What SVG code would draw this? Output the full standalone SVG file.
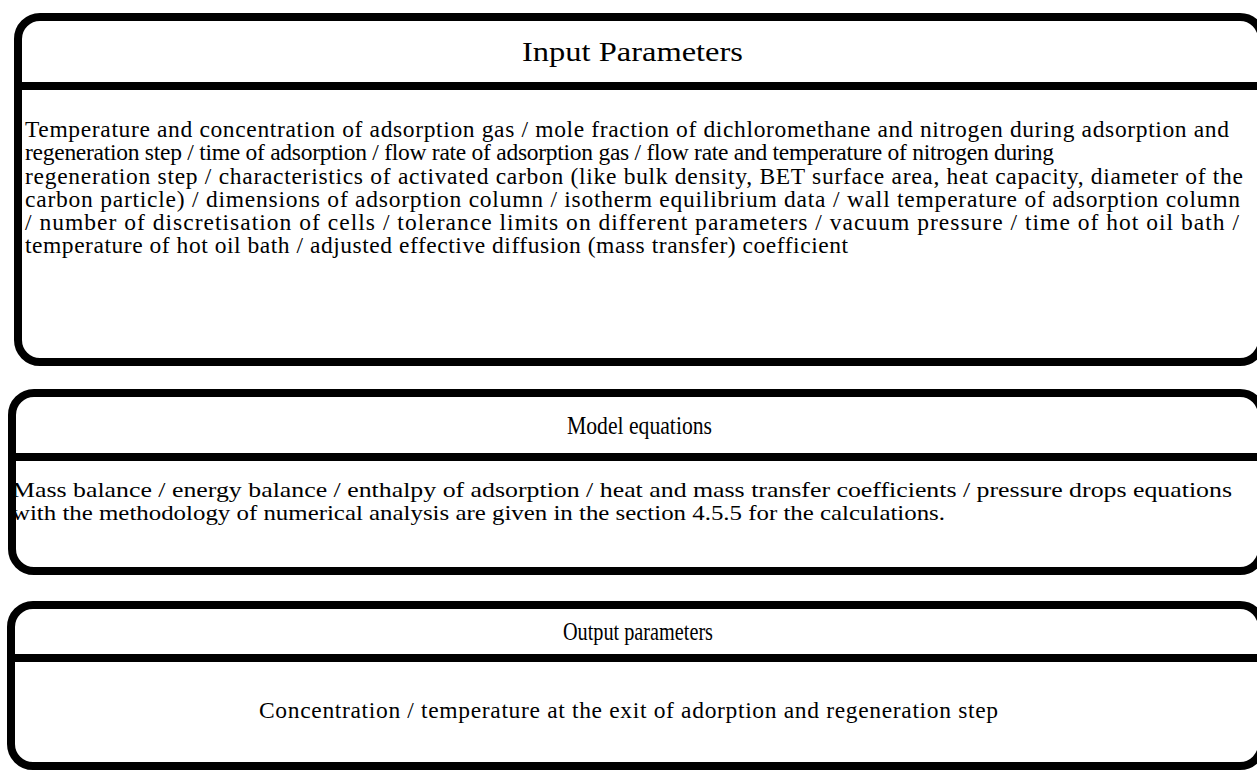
<svg xmlns="http://www.w3.org/2000/svg" width="1257" height="771" viewBox="0 0 1257 771">
<style>
.box{fill:#fff;stroke:#000;stroke-width:8}
.div{stroke:#000;stroke-width:8}
.title{font-family:"Liberation Serif","Times New Roman",serif;fill:#000}
.body{font-family:"Liberation Serif","Times New Roman",serif;fill:#000}
</style>
<rect width="1257" height="771" fill="#fff"/>
<g id="input">
<rect class="box" x="18" y="17" width="1244" height="345" rx="22" ry="22"/>
<line class="div" x1="18" y1="86" x2="1262" y2="86"/>
<text class="title" x="522" y="61" style="font-size:27px" textLength="221" lengthAdjust="spacingAndGlyphs">Input Parameters</text>
<g style="font-size:23.5px">
<text class="body" x="25" y="137" textLength="1204" lengthAdjust="spacing">Temperature and concentration of adsorption gas / mole fraction of dichloromethane and nitrogen during adsorption and</text>
<text class="body" x="25" y="160" textLength="1029" lengthAdjust="spacing">regeneration step / time of adsorption / flow rate of adsorption gas / flow rate and temperature of nitrogen during</text>
<text class="body" x="25" y="184" textLength="1218" lengthAdjust="spacing">regeneration step / characteristics of activated carbon (like bulk density, BET surface area, heat capacity, diameter of the</text>
<text class="body" x="25" y="207" textLength="1215" lengthAdjust="spacing">carbon particle) / dimensions of adsorption column / isotherm equilibrium data / wall temperature of adsorption column</text>
<text class="body" x="25" y="230" textLength="1214" lengthAdjust="spacing">/ number of discretisation of cells / tolerance limits on different parameters / vacuum pressure / time of hot oil bath /</text>
<text class="body" x="25" y="253" textLength="823" lengthAdjust="spacing">temperature of hot oil bath / adjusted effective diffusion (mass transfer) coefficient</text>
</g>
</g>
<g id="model">
<rect class="box" x="12" y="393" width="1250" height="178" rx="22" ry="22"/>
<line class="div" x1="12" y1="457" x2="1262" y2="457"/>
<text class="title" x="567" y="434" style="font-size:25px" textLength="145" lengthAdjust="spacingAndGlyphs">Model equations</text>
<g style="font-size:22px">
<text class="body" x="12" y="497" textLength="1220" lengthAdjust="spacingAndGlyphs">Mass balance / energy balance / enthalpy of adsorption / heat and mass transfer coefficients / pressure drops  equations</text>
<text class="body" x="12" y="520" textLength="933" lengthAdjust="spacingAndGlyphs">with the methodology of numerical analysis are given in the section 4.5.5 for the calculations.</text>
</g>
</g>
<g id="output">
<rect class="box" x="11" y="605" width="1251" height="161" rx="22" ry="22"/>
<line class="div" x1="11" y1="658" x2="1262" y2="658"/>
<text class="title" x="563" y="640" style="font-size:25px" textLength="150" lengthAdjust="spacingAndGlyphs">Output parameters</text>
<text class="body" x="259" y="718" style="font-size:23.5px" textLength="739" lengthAdjust="spacing">Concentration / temperature at the exit of adorption and regeneration step</text>
</g>
<g id="connectors"></g>
</svg>
